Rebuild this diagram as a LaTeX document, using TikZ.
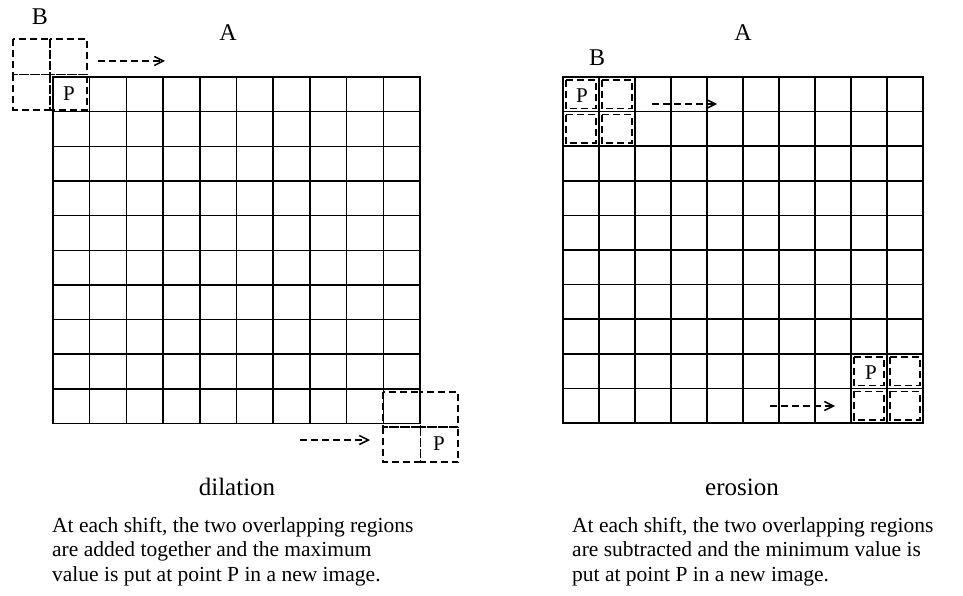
\documentclass[tikz,border=0pt]{standalone}
\usepackage{fontspec}
\setmainfont{Liberation Serif}
\usetikzlibrary{arrows.meta}

\tikzset{
    gridline/.style={line width=1.5pt, line cap=rect},
    probe/.style={line width=1.5pt, dash pattern=on 7pt off 4pt},
    shiftarrow/.style={line width=1.5pt, dash pattern=on 7pt off 4pt, -{Straight Barb[length=9pt,width=9pt]}},
    letter/.style={font=\fontsize{24}{26}\selectfont, inner sep=0pt},
    pmark/.style={font=\fontsize{21}{23}\selectfont, inner sep=0pt},
    caption/.style={font=\fontsize{25}{28}\selectfont, inner sep=0pt},
    remark/.style={font=\fontsize{21.5}{24.5}\selectfont, align=left, anchor=north west, inner sep=0pt}
}

\begin{document}
\begin{tikzpicture}[x=1pt, y=-1pt]
    \useasboundingbox (0,0) rectangle (963,596);

    % 左图：图像 A 的 10x10 网格
    \foreach \k in {0,...,10} {
        \draw[gridline] (53+36.7*\k,77) -- (53+36.7*\k,423.5);
        \draw[gridline] (53,77+34.65*\k) -- (420,77+34.65*\k);
    }

    % 右图：图像 A 的 10x10 网格
    \foreach \k in {0,...,10} {
        \draw[gridline] (563+36*\k,77) -- (563+36*\k,423);
        \draw[gridline] (563,77+34.6*\k) -- (923,77+34.6*\k);
    }

    % 左图：结构元 B 在左上角（P 落在 A 的第一格）
    \foreach \c in {0,1} {
        \foreach \r in {0,1} {
            \draw[probe] (13+37*\c,39+35.5*\r) rectangle +(37,35.5);
        }
    }
    \node[pmark] (pdl1) at (69,94) {P};

    % 左图：结构元 B 在右下角（P 落在 A 之外）
    \foreach \c in {0,1} {
        \foreach \r in {0,1} {
            \draw[probe] (383+37.5*\c,392+35*\r) rectangle +(37.5,35);
        }
    }
    \node[pmark] (pdl2) at (439,444) {P};

    % 右图：结构元 B 在 A 内部的左上角
    \foreach \c in {0,1} {
        \foreach \r in {0,1} {
            \draw[probe] (566+36*\c,80+34.6*\r) rectangle +(30,28.6);
        }
    }
    \node[pmark] (per1) at (582,96) {P};

    % 右图：结构元 B 在 A 内部的右下角
    \foreach \c in {8,9} {
        \foreach \r in {8,9} {
            \draw[probe] (566+36*\c,80+34.6*\r) rectangle +(30,28.6);
        }
    }
    \node[pmark] (per2) at (871,373) {P};

    % 标签 A 和 B
    \node[letter] (bdl) at (40,17) {B};
    \node[letter] (adl) at (228,33) {A};
    \node[letter] (ber) at (597,58) {B};
    \node[letter] (aer) at (743,33) {A};

    % 平移方向的虚线箭头
    \coordinate (dl1s) at (98,61);
    \coordinate (dl1e) at (165,61);
    \coordinate (dl2s) at (300,440);
    \coordinate (dl2e) at (370,440);
    \coordinate (er1s) at (652,104);
    \coordinate (er1e) at (717,104);
    \coordinate (er2s) at (770,406);
    \coordinate (er2e) at (835,406);
    \draw[shiftarrow] (dl1s) -- (dl1e);
    \draw[shiftarrow] (dl2s) -- (dl2e);
    \draw[shiftarrow] (er1s) -- (er1e);
    \draw[shiftarrow] (er2s) -- (er2e);

    % 下方的标题
    \node[caption] (dil) at (237,487) {dilation};
    \node[caption] (ero) at (742,487) {erosion};

    % 说明文字
    \node[remark] (dilnote) at (52,517) {At each shift, the two overlapping regions\\are added together and the maximum\\value is put at point P in a new image.};
    \node[remark] (eronote) at (572,517) {At each shift, the two overlapping regions\\are subtracted and the minimum value is\\put at point P in a new image.};
\end{tikzpicture}
\end{document}
